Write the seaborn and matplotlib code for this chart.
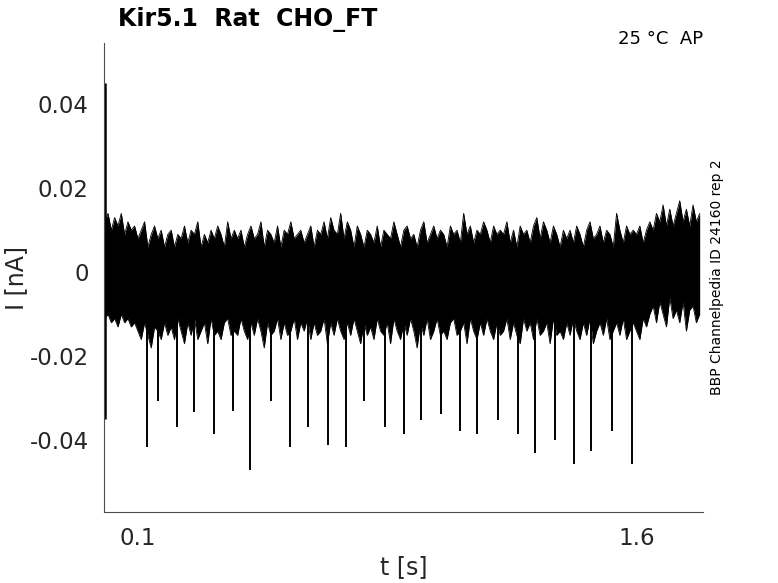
import numpy as np
import seaborn as sns
import matplotlib
matplotlib.use("Agg")
import matplotlib.pyplot as plt

# sampled envelope of the noisy trace, every 10 ms (values in pA)
t_env = np.round(np.arange(0, 1.8, 0.01), 2)

upper_pA = [12, 14, 10, 13, 11, 14, 9, 12, 10, 11, 8, 10, 12, 6, 9, 11, 8, 10, 6, 9,
            10, 6, 9, 8, 11, 7, 10, 9, 12, 6, 9, 7, 10, 8, 11, 9, 6, 12, 8, 10,
            8, 10, 6, 9, 11, 8, 9, 12, 6, 10, 9, 7, 11, 6, 10, 9, 12, 8, 9, 10,
            7, 9, 11, 6, 10, 9, 12, 8, 13, 10, 9, 14, 8, 12, 10, 6, 11, 9, 6, 10,
            9, 7, 11, 6, 10, 9, 8, 12, 9, 6, 10, 11, 8, 9, 6, 10, 12, 7, 9, 11,
            8, 10, 9, 6, 11, 9, 10, 7, 14, 9, 11, 7, 10, 9, 12, 10, 7, 11, 9, 10,
            9, 12, 7, 10, 6, 11, 9, 10, 7, 11, 13, 8, 12, 10, 7, 11, 9, 6, 10, 8,
            10, 7, 11, 9, 6, 10, 12, 8, 9, 11, 7, 10, 9, 6, 14, 10, 7, 11, 9, 10,
            9, 11, 7, 10, 12, 10, 14, 12, 16, 11, 15, 11, 14, 17, 12, 15, 11, 16, 12, 14]

lower_pA = [-11, -10, -12, -11, -13, -10, -12, -11, -13, -12, -14, -16, -12, -15, -18, -13, -14, -16, -12, -15,
            -13, -16, -11, -14, -17, -12, -15, -11, -16, -14, -12, -17, -11, -15, -14, -16, -12, -11, -15, -14,
            -15, -11, -14, -16, -12, -15, -11, -14, -18, -12, -15, -14, -11, -16, -12, -15, -14, -11, -16, -12,
            -14, -11, -16, -12, -15, -14, -11, -17, -12, -15, -11, -14, -16, -12, -15, -11, -14, -17, -12, -15,
            -13, -16, -11, -14, -15, -12, -17, -11, -14, -16, -12, -15, -11, -14, -18, -12, -15, -11, -16, -14,
            -11, -15, -14, -16, -12, -11, -15, -14, -12, -17, -11, -14, -16, -12, -15, -11, -14, -16, -12, -15,
            -14, -11, -16, -12, -15, -17, -11, -14, -12, -16, -11, -15, -14, -12, -17, -11, -15, -14, -16, -12,
            -15, -11, -14, -16, -12, -15, -11, -17, -14, -12, -15, -11, -16, -14, -12, -15, -11, -16, -14, -12,
            -14, -16, -11, -13, -10, -8, -12, -7, -10, -13, -6, -11, -9, -12, -7, -14, -9, -8, -12, -10]

# downward spikes (s, nA)
spike_t = [0.126, 0.161, 0.217, 0.269, 0.330, 0.385, 0.437, 0.501, 0.559, 0.611,
           0.672, 0.727, 0.780, 0.843, 0.901, 0.952, 1.013, 1.070, 1.121, 1.184,
           1.243, 1.295, 1.355, 1.411, 1.464, 1.527, 1.585]
spike_min = [-0.0416, -0.0306, -0.0368, -0.0333, -0.0384, -0.0329, -0.0471, -0.0306, -0.0416, -0.0368,
             -0.0410, -0.0416, -0.0306, -0.0368, -0.0384, -0.0352, -0.0336, -0.0378, -0.0384, -0.0352,
             -0.0384, -0.0430, -0.0398, -0.0455, -0.0425, -0.0378, -0.0455]

# capacitive transient at the start
transient_t = 0.001
transient_max = 0.045
transient_min = -0.035

xticks = [0.1, 1.6]
xticklabels = ['0.1', '1.6']
yticks = [-0.04, -0.02, 0, 0.02, 0.04]
yticklabels = ['-0.04', '-0.02', '0', '0.02', '0.04']

upper = np.array(upper_pA) * 1e-3
lower = np.array(lower_pA) * 1e-3

sns.set_style('white')
plt.rcParams['font.family'] = ['DejaVu Sans']
plt.rcParams['axes.unicode_minus'] = False

gray = '#262626'
fig = plt.figure(figsize=(7.78, 5.83), dpi=100)
ax = fig.add_axes([104 / 778, 1 - 512 / 583, 599 / 778, 469 / 583])

ax.fill_between(t_env, lower, upper, color='black', lw=0)
sns.lineplot(x=t_env, y=upper, color='black', lw=0.6, ax=ax)
sns.lineplot(x=t_env, y=lower, color='black', lw=0.6, ax=ax)
ax.vlines(spike_t, -0.011, spike_min, color='black', lw=1.4)
ax.vlines([transient_t], transient_min, transient_max, color='black', lw=1.8)

ax.set_xlim(-0.002, 1.8)
ax.set_ylim(-0.057, 0.0545)
ax.set_xticks(xticks)
ax.set_xticklabels(xticklabels)
ax.set_yticks(yticks)
ax.set_yticklabels(yticklabels)
ax.tick_params(direction='in', length=5, width=0.6, colors=gray, labelsize=16.5, pad=11)

for side in ['top', 'right']:
    ax.spines[side].set_visible(False)
for side in ['left', 'bottom']:
    ax.spines[side].set_color('#4d4d4d')
    ax.spines[side].set_linewidth(0.8)

ax.set_xlabel('t [s]', fontsize=17, color=gray)
ax.set_ylabel('I [nA]', fontsize=17, color=gray)
ax.xaxis.set_label_coords(0.5, -0.117)
ax.xaxis.label.set_va('center')
ax.yaxis.set_label_coords(-0.146, 0.5)
ax.yaxis.label.set_va('center')

fig.text(118 / 778, 1 - 19 / 583, 'Kir5.1  Rat  CHO_FT', fontsize=17, fontweight='bold',
         va='center', ha='left', color='black')
ax.text(1.0, 1.0 + 4 / 469, '25 °C  AP', transform=ax.transAxes, fontsize=13,
        ha='right', va='center', color='black')
ax.text(1.0 + 14 / 599, 0.5, 'BBP Channelpedia ID 24160 rep 2', transform=ax.transAxes,
        fontsize=10, rotation=90, ha='center', va='center', color='black')

fig.savefig('out.png', dpi=100)
